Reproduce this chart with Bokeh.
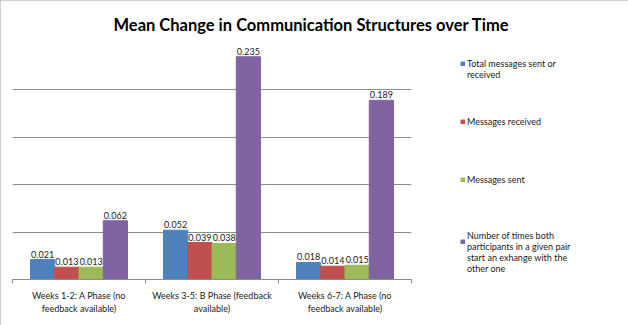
from bokeh.plotting import figure
from bokeh.models import (ColumnDataSource, Range1d, LinearAxis, FixedTicker, Legend, LegendItem)
from bokeh.transform import dodge
from bokeh.core.properties import value
from bokeh.embed import file_html
from bokeh.resources import INLINE

# ---- data ----
categories = [
    "Weeks 1-2: A Phase (no\nfeedback available)",
    "Weeks 3-5: B Phase (feedback\navailable)",
    "Weeks 6-7: A Phase (no\nfeedback available)",
]
series_names = [
    "Total messages sent or\nreceived",
    "Messages received",
    "Messages sent",
    "Number of times both\nparticipants in a given pair\nstart an exhange with the\nother one",
]
total_msgs = [0.021, 0.052, 0.018]
msgs_received = [0.013, 0.039, 0.014]
msgs_sent = [0.013, 0.038, 0.015]
both_start = [0.062, 0.235, 0.189]
colors = ["#4F81BD", "#C0504D", "#9BBB59", "#8064A2"]

FONT = "Lato"
TXT = "#1a1a1a"

# category slots: category i occupies [i, i+1] on the x scale
cat_pos = [i + 0.5 for i in range(len(categories))]
cat_edges = [float(i) for i in range(len(categories) + 1)]

src = ColumnDataSource(dict(
    x=cat_pos,
    s0=total_msgs, s1=msgs_received, s2=msgs_sent, s3=both_start,
    l0=[f"{v:.3f}" for v in total_msgs],
    l1=[f"{v:.3f}" for v in msgs_received],
    l2=[f"{v:.3f}" for v in msgs_sent],
    l3=[f"{v:.3f}" for v in both_start],
))

p = figure(frame_width=399, frame_height=237, x_range=Range1d(0, len(categories)),
           y_range=Range1d(0, 0.25), output_backend="svg",
           toolbar_location=None, x_axis_location=None, y_axis_location=None,
           min_border_left=12, min_border_right=217, min_border_top=42,
           min_border_bottom=46)
p.outline_line_color = None
p.background_fill_color = "white"
p.border_fill_color = "white"
p.styles = {"box-shadow": "inset 2px 1px 0 #c0c0c0, inset -2px -2px 0 #c0c0c0"}

# title
p.title.text = "Mean Change in Communication Structures over Time"
p.title.text_font = FONT
p.title.text_font_size = "16.5px"
p.title.text_font_style = "bold"
p.title.text_color = "#000000"
p.title.align = "left"
p.title.offset = 101
p.title.standoff = 15

# grid
p.ygrid.ticker = FixedTicker(ticks=[0.05, 0.10, 0.15, 0.20, 0.25])
p.ygrid.grid_line_color = "#8c8c8c"
p.ygrid.grid_line_width = 1
p.xgrid.grid_line_color = None

# category axis: labels at slot centres, tick marks at slot boundaries
xaxis = LinearAxis(ticker=FixedTicker(ticks=cat_pos, minor_ticks=cat_edges))
xaxis.major_label_overrides = {cat_pos[i]: categories[i] for i in range(len(categories))}
xaxis.axis_line_color = "#8c8c8c"
xaxis.major_tick_line_color = None
xaxis.minor_tick_line_color = "#8c8c8c"
xaxis.minor_tick_out = 4
xaxis.minor_tick_in = 0
xaxis.major_tick_out = 4
xaxis.major_tick_in = 0
xaxis.major_label_text_font = FONT
xaxis.major_label_text_font_size = "9px"
xaxis.major_label_text_color = TXT
xaxis.major_label_standoff = 6
p.add_layout(xaxis, "below")

# bars
vals = ["s0", "s1", "s2", "s3"]
labs = ["l0", "l1", "l2", "l3"]
offsets = [-0.2735, -0.0912, 0.0912, 0.2735]
bar_w = 0.1823
renderers = []
for i in range(4):
    r = p.vbar(x=dodge("x", offsets[i]), top=vals[i], width=bar_w,
               source=src, fill_color=colors[i], line_color=colors[i])
    renderers.append(r)
    p.text(x=dodge("x", offsets[i]), y=vals[i], text=labs[i],
           source=src, text_align="center", text_baseline="bottom", y_offset=-2,
           text_font=value(FONT), text_font_size="9px", text_color=TXT)

# legend in the right-hand panel; leading blank lines keep each swatch
# near the first line of its entry
lead = [1, 0, 0, 2]
lg = Legend(items=[LegendItem(label="\n" * lead[i] + series_names[i], renderers=[renderers[i]])
                   for i in range(4)])
lg.label_text_font = FONT
lg.label_text_font_size = "9px"
lg.label_text_color = TXT
lg.label_text_line_height = 1.29
lg.glyph_width = 5
lg.glyph_height = 5
lg.label_standoff = 2
lg.label_height = 58
lg.padding = 0
lg.margin = 0
lg.spacing = 0
lg.border_line_color = None
lg.background_fill_alpha = 0
lg.location = (49, 5)
p.add_layout(lg, "right")

open("out.html", "w").write(file_html(p, INLINE))
